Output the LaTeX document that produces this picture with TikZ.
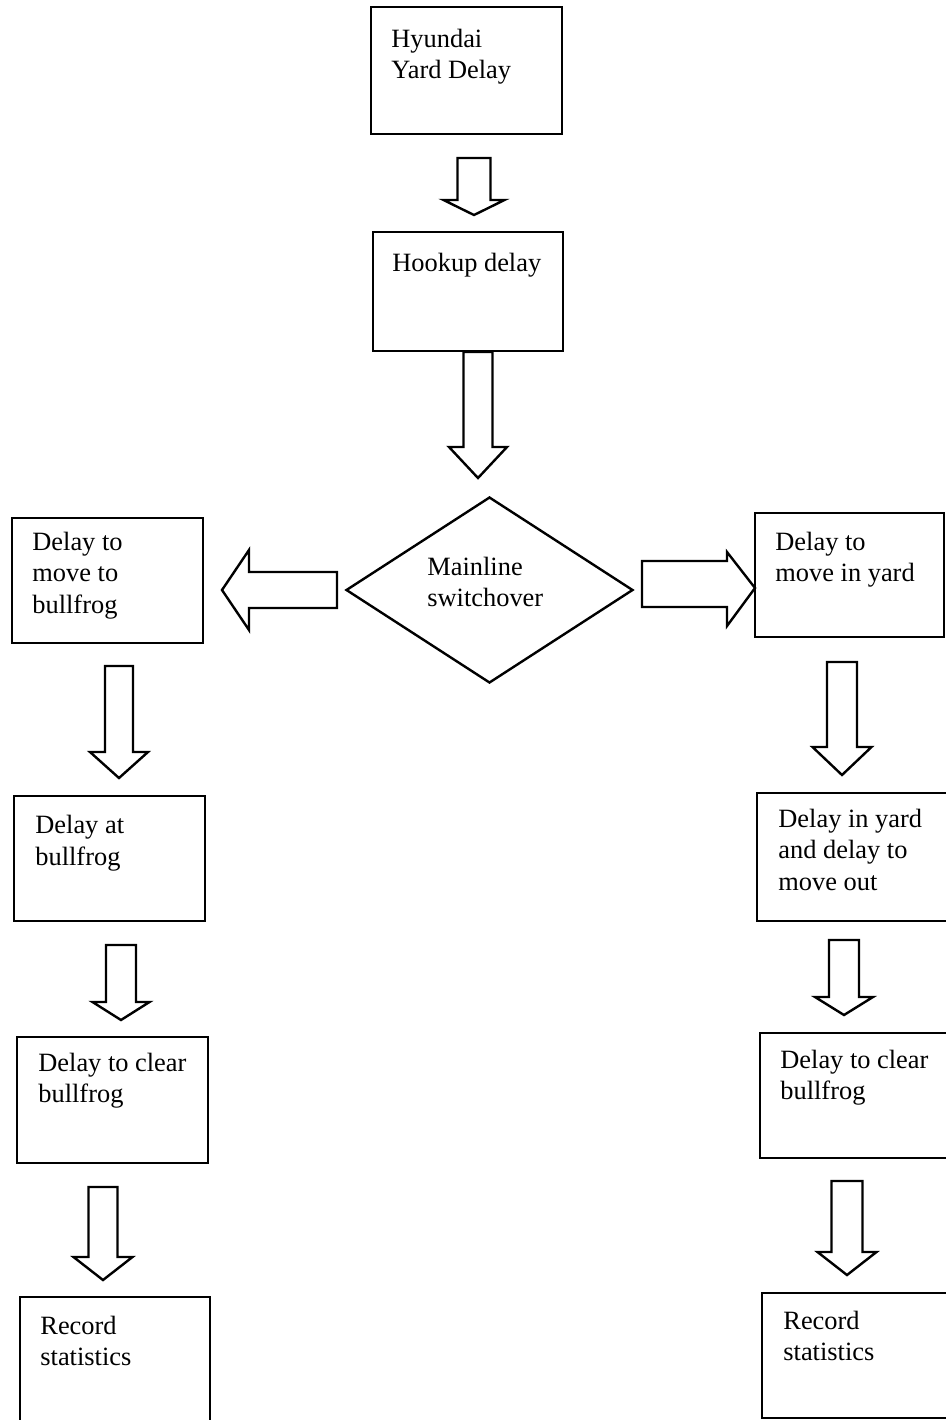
\documentclass[tikz,border=0pt]{standalone}
\usepackage{fontspec}
\setmainfont{Liberation Serif}
\usetikzlibrary{shapes.geometric}
\newcommand{\boxnode}[5]{\node[box, anchor=north west, minimum width={(#4-#2)*0.5pt}, minimum height={(#5-#3)*0.5pt}] (#1) at (#2,#3) {};}
\newcommand{\vblk}[6]{\draw[blk] ({#1-#5},#2) -- ({#1-#5},#3) -- ({#1-#6},#3) -- (#1,#4) -- ({#1+#6},#3) -- ({#1+#5},#3) -- ({#1+#5},#2) -- cycle;}
\newcommand{\hblk}[6]{\draw[blk] (#2,{#1-#5}) -- (#3,{#1-#5}) -- (#3,{#1-#6}) -- (#4,#1) -- (#3,{#1+#6}) -- (#3,{#1+#5}) -- (#2,{#1+#5}) -- cycle;}
\begin{document}
\begin{tikzpicture}[x=0.5pt,y=-0.5pt,
  box/.style={draw, line width=1.2pt, rectangle, inner sep=0pt, outer sep=0pt},
  lbl/.style={anchor=base west, inner sep=0pt, align=left, font=\fontsize{13.2}{15.75}\selectfont},
  blk/.style={draw, line width=1.2pt, line join=miter, fill=white}]
\useasboundingbox (0,0) rectangle (946,1420);
\clip (0,0) rectangle (946,1420);
% boxes
\boxnode{hy}{371}{7}{562}{134}
\boxnode{hk}{373}{232}{563}{351}
\node[draw, diamond, line width=1.2pt, inner sep=0pt, minimum width={287*0.5pt}, minimum height={186*0.5pt}] (sw) at (489.5,590) {};
\boxnode{lmove}{12}{518}{203}{643}
\boxnode{rmove}{755}{513}{944}{637}
\boxnode{lat}{14}{796}{205}{921}
\boxnode{ryard}{757}{793}{952}{921}
\boxnode{lclear}{17}{1037}{208}{1163}
\boxnode{rclear}{760}{1033}{952}{1158}
\boxnode{lrec}{20}{1297}{210}{1430}
\boxnode{rrec}{762}{1293}{952}{1418}
% texts (base = baseline of the last line)
\node[lbl] (thy) at (391,78.5) {Hyundai\\Yard Delay};
\node[lbl] (thk) at (392,271) {Hookup delay};
\node[lbl] (tsw) at (427,606.5) {Mainline\\switchover};
\node[lbl] (tlmove) at (32,613) {Delay to\\move to\\bullfrog};
\node[lbl] (trmove) at (775,581.5) {Delay to\\move in yard};
\node[lbl] (tlat) at (35,865) {Delay at\\bullfrog};
\node[lbl] (tryard) at (778,890) {Delay in yard\\and delay to\\move out};
\node[lbl] (tlclear) at (38,1102.5) {Delay to clear\\bullfrog};
\node[lbl] (trclear) at (780,1099.5) {Delay to clear\\bullfrog};
\node[lbl] (tlrec) at (40,1365.5) {Record\\statistics};
\node[lbl] (trrec) at (783,1360.5) {Record\\statistics};
% block arrows
\vblk{474}{158}{200}{215}{16.5}{30.5}
\vblk{478}{352}{447}{478}{14.5}{29}
\hblk{590}{337}{249}{222}{18}{40}
\draw[blk] (642,561) -- (727,561) -- (727,552) -- (755,588) -- (727,626) -- (727,607) -- (642,607) -- cycle;
\vblk{119}{666}{752}{778}{14}{29}
\vblk{121}{945}{1002}{1020}{15}{28.5}
\vblk{103}{1187}{1257}{1280}{14.5}{29.5}
\vblk{842}{662}{747}{775}{15}{29.5}
\vblk{844}{940}{997}{1015}{15}{29}
\vblk{847}{1181}{1252}{1275}{15.5}{29.5}
\end{tikzpicture}
\end{document}
